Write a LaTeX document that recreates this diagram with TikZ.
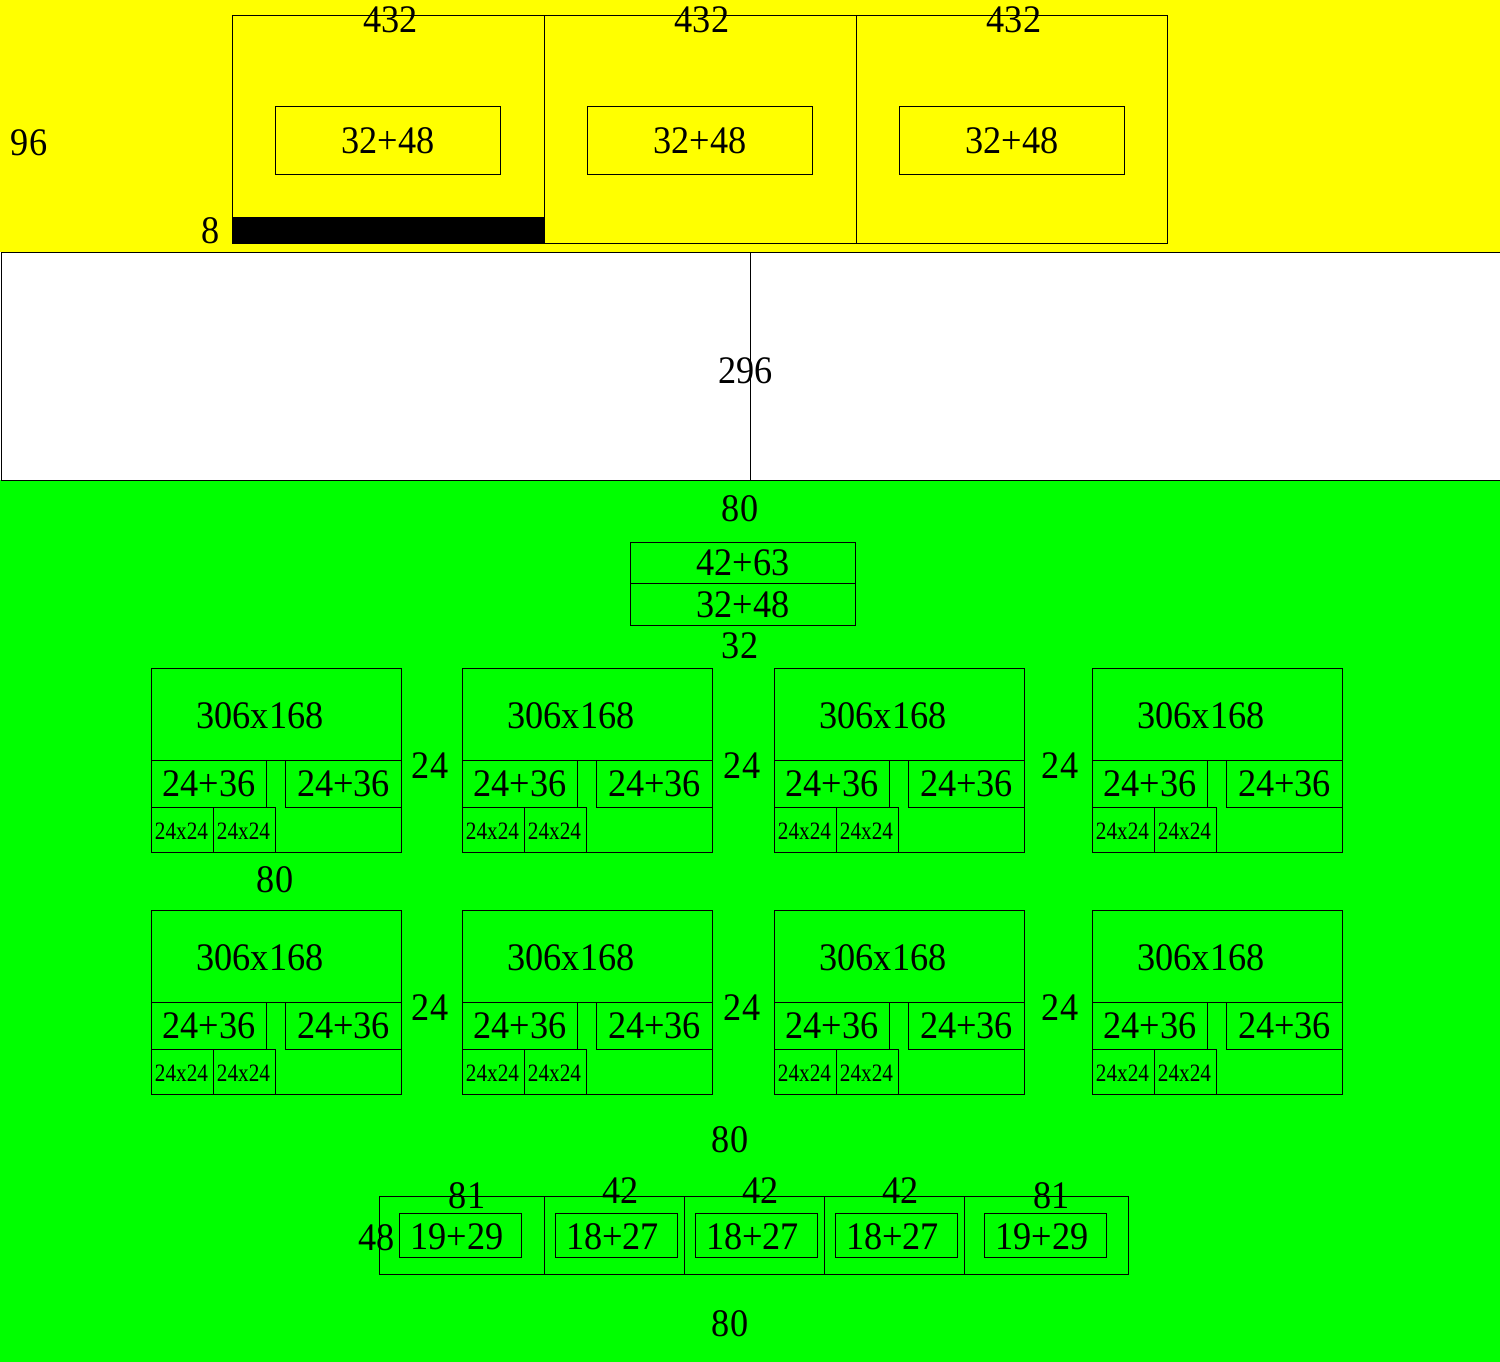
\documentclass[tikz,border=0pt]{standalone}
\usepackage{fontspec}
\setmainfont[FakeStretch=0.93]{Liberation Serif}
\newfontfamily\smallfam[FakeStretch=0.85]{Liberation Serif}
\definecolor{yel}{RGB}{255,255,0}
\definecolor{grn}{RGB}{0,255,0}
\tikzset{
  frame/.style={draw=black, line width=1pt, inner sep=0pt, anchor=north west},
  lbl/.style={inner sep=0pt, font=\fontsize{39}{47}\selectfont},
  slbl/.style={inner sep=0pt, font=\smallfam\fontsize{25}{30}\selectfont},
  boxtext/.style={font=\fontsize{39}{47}\selectfont},
}
\newcommand{\panelbox}[3]{%
  \begin{scope}[shift={(#1,#2)}]
    \node[frame, minimum width=250, minimum height=184] (#3) at (0,0) {};
    \node[frame, minimum width=250, minimum height=92] (#3top) at (0,0) {};
    \node[frame, boxtext, minimum width=115, minimum height=47] (#3a) at (0,92) {24+36};
    \node[frame, boxtext, minimum width=116, minimum height=47] (#3b) at (134,92) {24+36};
    \node[frame, minimum width=62, minimum height=45] (#3c) at (0,139) {};
    \node[frame, minimum width=62, minimum height=45] (#3d) at (62,139) {};
    \node[slbl] (#3ct) at (30.5,163.5) {24x24};
    \node[slbl] (#3dt) at (92.5,163.5) {24x24};
    \node[lbl] (#3t) at (109,48) {306x168};
  \end{scope}}
\begin{document}
\begin{tikzpicture}[x=1pt,y=-1pt]
\useasboundingbox (0,0) rectangle (1500,1362);
% bands
\fill[yel] (0,0) rectangle (1500,252);
\fill[grn] (0,480) rectangle (1500,1362);
\node[frame, fill=white, minimum width=750, minimum height=228] (w1) at (0.5,252) {};
\node[frame, fill=white, minimum width=749.5, minimum height=228] (w2) at (750,252) {};
\node[lbl] (l296) at (745.5,371) {296};
% top boxes
\node[frame, minimum width=312, minimum height=228] (t1) at (232,15) {};
\node[frame, minimum width=312, minimum height=228] (t2) at (544,15) {};
\node[frame, minimum width=311, minimum height=228] (t3) at (856,15) {};
\fill[black] (232,217) rectangle (544,243);
\node[frame, boxtext, minimum width=225, minimum height=68] (i1) at (275,106) {32+48};
\node[frame, boxtext, minimum width=225, minimum height=68] (i2) at (587,106) {32+48};
\node[frame, boxtext, minimum width=225, minimum height=68] (i3) at (899,106) {32+48};
\node[lbl] (n4321) at (390.5,19.5) {432};
\node[lbl] (n4322) at (702,19.5) {432};
\node[lbl] (n4323) at (1014,19.5) {432};
\node[lbl] (n96) at (29,143) {96};
\node[lbl] (n8) at (211,231) {8};
% green area
\node[lbl] (g80a) at (740,509) {80};
\node[frame, boxtext, minimum width=225, minimum height=41] (c1) at (630,542) {42+63};
\node[frame, boxtext, minimum width=225, minimum height=42] (c2) at (630,583) {32+48};
\node[lbl] (g32) at (740,646) {32};
% panels
\panelbox{151}{668}{pa}
\panelbox{462}{668}{pb}
\panelbox{774}{668}{pc}
\panelbox{1092}{668}{pd}
\panelbox{151}{910}{qa}
\panelbox{462}{910}{qb}
\panelbox{774}{910}{qc}
\panelbox{1092}{910}{qd}
\node[lbl] (s1) at (430,766) {24};
\node[lbl] (s2) at (742,766) {24};
\node[lbl] (s3) at (1060,766) {24};
\node[lbl] (s4) at (430,1008) {24};
\node[lbl] (s5) at (742,1008) {24};
\node[lbl] (s6) at (1060,1008) {24};
\node[lbl] (g80b) at (275,880) {80};
\node[lbl] (g80c) at (730,1140) {80};
% bottom strip
\node[frame, minimum width=165, minimum height=78] (b1) at (379,1196) {};
\node[frame, minimum width=140, minimum height=78] (b2) at (544,1196) {};
\node[frame, minimum width=140, minimum height=78] (b3) at (684,1196) {};
\node[frame, minimum width=140, minimum height=78] (b4) at (824,1196) {};
\node[frame, minimum width=164, minimum height=78] (b5) at (964,1196) {};
\node[frame, minimum width=122, minimum height=44] (k1) at (399,1213) {};
\node[frame, minimum width=122, minimum height=44] (k2) at (555,1213) {};
\node[frame, minimum width=122, minimum height=44] (k3) at (695,1213) {};
\node[frame, minimum width=122, minimum height=44] (k4) at (835,1213) {};
\node[frame, minimum width=122, minimum height=44] (k5) at (984,1213) {};
\node[lbl] (kt1) at (457,1236.5) {19+29};
\node[lbl] (kt2) at (612.5,1236.5) {18+27};
\node[lbl] (kt3) at (752.5,1236.5) {18+27};
\node[lbl] (kt4) at (892.5,1236.5) {18+27};
\node[lbl] (kt5) at (1042,1236.5) {19+29};
\node[lbl] (h1) at (467,1196) {81};
\node[lbl] (h2) at (620.5,1190.5) {42};
\node[lbl] (h3) at (760.5,1190.5) {42};
\node[lbl] (h4) at (900.5,1191) {42};
\node[lbl] (h5) at (1051.5,1195.5) {81};
\node[lbl] (h48) at (376.5,1237.5) {48};
\node[lbl] (g80d) at (730,1324) {80};
\end{tikzpicture}
\end{document}
